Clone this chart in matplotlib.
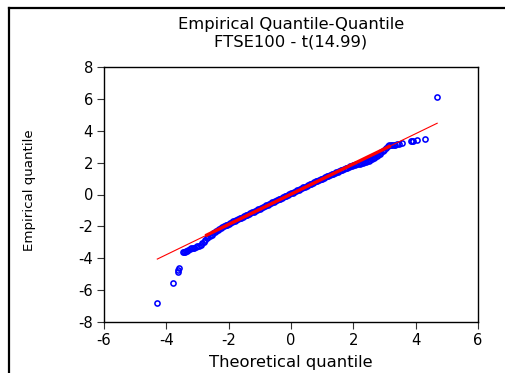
import matplotlib
matplotlib.use("Agg")
import matplotlib.pyplot as plt
from matplotlib.lines import Line2D
import numpy as np

# Quantile pairs: theoretical t(14.99) quantile vs empirical FTSE100 quantile
theoretical = [
    -4.29, -3.78, -3.64, -3.62, -3.60,
    -3.46, -3.43, -3.40, -3.37, -3.34,
    -3.30, -3.25, -3.20, -3.15, -3.10, -3.05, -3.00, -2.95, -2.90, -2.85,
    -2.80, -2.75, -2.70, -2.65, -2.60, -2.55, -2.50, -2.45, -2.40, -2.35,
    -2.30, -2.25, -2.20, -2.15, -2.10, -2.05, -2.00, -1.95, -1.90, -1.85,
    -1.80, -1.75, -1.70, -1.65, -1.60, -1.55, -1.50, -1.45, -1.40, -1.35,
    -1.30, -1.25, -1.20, -1.15, -1.10, -1.05, -1.00, -0.95, -0.90, -0.85,
    -0.80, -0.75, -0.70, -0.65, -0.60, -0.55, -0.50, -0.45, -0.40, -0.35,
    -0.30, -0.25, -0.20, -0.15, -0.10, -0.05, 0.00, 0.05, 0.10, 0.15,
    0.20, 0.25, 0.30, 0.35, 0.40, 0.45, 0.50, 0.55, 0.60, 0.65,
    0.70, 0.75, 0.80, 0.85, 0.90, 0.95, 1.00, 1.05, 1.10, 1.15,
    1.20, 1.25, 1.30, 1.35, 1.40, 1.45, 1.50, 1.55, 1.60, 1.65,
    1.70, 1.75, 1.80, 1.85, 1.90, 1.95, 2.00, 2.05, 2.10, 2.15,
    2.20, 2.25, 2.30, 2.35, 2.40, 2.45, 2.50, 2.55, 2.60, 2.65,
    2.70, 2.75, 2.80, 2.85, 2.90, 2.95, 3.00, 3.05, 3.10, 3.15,
    3.20, 3.25, 3.30, 3.35, 3.40, 3.45, 3.55,
    3.84, 3.87, 3.90, 4.03, 4.30, 4.67,
]
empirical = [
    -6.79, -5.53, -4.86, -4.74, -4.62,
    -3.60, -3.60, -3.59, -3.57, -3.55,
    -3.47, -3.40, -3.37, -3.35, -3.33, -3.30, -3.26, -3.21, -3.15, -3.07,
    -2.97, -2.86, -2.76, -2.67, -2.59, -2.51, -2.43, -2.35, -2.27, -2.20,
    -2.15, -2.10, -2.04, -1.99, -1.94, -1.89, -1.83, -1.78, -1.73, -1.69,
    -1.64, -1.59, -1.54, -1.50, -1.45, -1.40, -1.35, -1.31, -1.26, -1.21,
    -1.16, -1.12, -1.07, -1.02, -0.97, -0.93, -0.88, -0.83, -0.78, -0.74,
    -0.69, -0.64, -0.59, -0.55, -0.50, -0.45, -0.41, -0.36, -0.31, -0.26,
    -0.22, -0.17, -0.12, -0.07, -0.03, 0.02, 0.07, 0.12, 0.16, 0.21,
    0.26, 0.30, 0.35, 0.40, 0.44, 0.49, 0.54, 0.58, 0.63, 0.68,
    0.72, 0.77, 0.82, 0.86, 0.91, 0.96, 1.00, 1.04, 1.09, 1.13,
    1.18, 1.22, 1.27, 1.31, 1.35, 1.40, 1.44, 1.48, 1.52, 1.56,
    1.60, 1.64, 1.68, 1.72, 1.76, 1.80, 1.84, 1.87, 1.89, 1.92,
    1.94, 1.97, 2.00, 2.03, 2.05, 2.08, 2.12, 2.17, 2.22, 2.28,
    2.35, 2.42, 2.49, 2.56, 2.64, 2.72, 2.80, 2.92, 3.03, 3.08,
    3.10, 3.11, 3.12, 3.13, 3.15, 3.17, 3.22,
    3.36, 3.37, 3.38, 3.42, 3.48, 6.14,
]

# Reference line fitted to the quantile pairs
fit_intercept = 0.02
fit_slope = 0.949
fit_range = [-4.29, 4.69]       # extent of the thin line
fit_core_range = [-2.75, 3.20]  # where the line is drawn heavier

x_ticks = [-6, -4, -2, 0, 2, 4, 6]
y_ticks = [-8, -6, -4, -2, 0, 2, 4, 6, 8]

plt.rcParams["font.family"] = ["DejaVu Sans"]

W, H = 506, 373
fig = plt.figure(figsize=(W / 100, H / 100), dpi=100)
fig.patch.set_facecolor("white")

ax = fig.add_axes([104 / W, 1 - 322 / H, (478 - 104) / W, (322 - 67) / H])

ax.plot(theoretical, empirical, linestyle="none", marker="o",
        markersize=3.7, markerfacecolor="none", markeredgecolor="#0000ff",
        markeredgewidth=1.15, zorder=2)

fx = np.array(fit_range)
ax.plot(fx, fit_intercept + fit_slope * fx, color="#ff0000", lw=0.8, zorder=3)
cx = np.array(fit_core_range)
ax.plot(cx, fit_intercept + fit_slope * cx, color="#ff0000", lw=2.4,
        solid_capstyle="butt", zorder=3)

ax.set_xlim(-6, 6)
ax.set_ylim(-8, 8)
ax.set_xticks(x_ticks)
ax.set_yticks(y_ticks)
ax.set_xticklabels([str(t) for t in x_ticks])
ax.set_yticklabels([str(t) for t in y_ticks])
ax.tick_params(axis="both", direction="out", length=5, width=0.8,
               color="#333333", labelsize=10.6, labelcolor="black")
ax.tick_params(axis="x", pad=3)
ax.tick_params(axis="y", pad=3)
for sp in ax.spines.values():
    sp.set_linewidth(1.0)
    sp.set_color("black")

# Titles and axis labels
fig.text(291 / W, 1 - 25 / H, "Empirical Quantile-Quantile", ha="center",
         va="center", fontsize=11.8)
fig.text(291 / W, 1 - 42 / H, "FTSE100 - t(14.99)", ha="center",
         va="center", fontsize=11.8)
fig.text(291 / W, 1 - 367 / H, "Theoretical quantile", ha="center",
         va="baseline", fontsize=11.8)
fig.text(30 / W, 1 - 190 / H, "Empirical quantile", ha="center",
         va="center", rotation=90, fontsize=9.6)

# Outer frame (top and left edges)
fig.add_artist(Line2D([8.5 / W, 1.0], [1 - 7.5 / H, 1 - 7.5 / H],
                      transform=fig.transFigure, color="black", lw=1.6))
fig.add_artist(Line2D([8.5 / W, 8.5 / W], [1 - 7.5 / H, 0.0],
                      transform=fig.transFigure, color="black", lw=1.6))

fig.savefig("out.png", dpi=100)
